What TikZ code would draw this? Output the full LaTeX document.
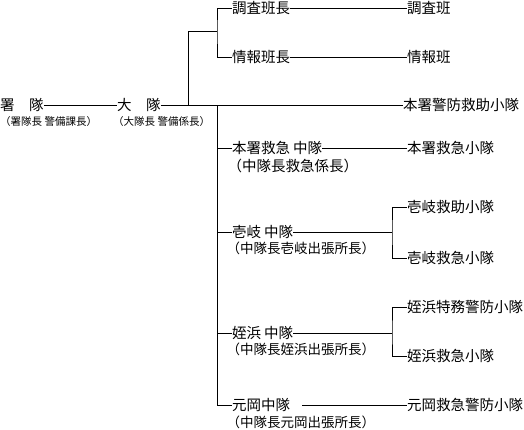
\documentclass[tikz,border=0pt]{standalone}
\usepackage{fontspec}
\newfontfamily\jp{Noto Sans CJK JP}
\begin{document}
\begin{tikzpicture}[x=1pt,y=-1pt,
  main/.style={anchor=west,inner sep=0pt,font=\jp\fontsize{14.5}{16}\selectfont},
  subt/.style={anchor=west,inner sep=0pt,font=\jp\fontsize{13.5}{15}\selectfont},
  tiny/.style={anchor=west,inner sep=0pt,font=\jp\fontsize{10.5}{12}\selectfont},
  conn/.style={line width=1pt}]
\useasboundingbox (0,0) rectangle (524,429);
% left part
\node[main] (shotai) at (0,105) {署　隊};
\node[tiny] (shotaisub) at (0,122) {（署隊長 警備課長）};
\node[main] (daitai) at (117,105) {大　隊};
\node[tiny] (daitaisub) at (113,122) {（大隊長 警備係長）};
% top branches
\node[main] (chosa) at (232,8) {調査班長};
\node[main] (chosahan) at (407,8) {調査班};
\node[main] (joho) at (232,57) {情報班長};
\node[main] (johohan) at (407,57) {情報班};
\node[main] (honsho) at (403,105) {本署警防救助小隊};
% middle companies
\node[main] (honq) at (232,148) {本署救急\hspace{3pt}中隊};
\node[main] (honqsub) at (227.5,166) {（中隊長救急係長）};
\node[main] (honqs) at (407,148) {本署救急小隊};
\node[main] (iki) at (232,232) {壱岐\hspace{3pt}中隊};
\node[subt] (ikisub) at (226.5,248) {（中隊長壱岐出張所長）};
\node[main] (ikia) at (407,207) {壱岐救助小隊};
\node[main] (ikib) at (407,258) {壱岐救急小隊};
\node[main] (mei) at (232,333) {姪浜\hspace{3pt}中隊};
\node[subt] (meisub) at (226.5,349) {（中隊長姪浜出張所長）};
\node[main] (meia) at (407,307) {姪浜特務警防小隊};
\node[main] (meib) at (407,356) {姪浜救急小隊};
\node[main] (moto) at (232,405) {元岡中隊};
\node[subt] (motosub) at (226.5,422) {（中隊長元岡出張所長）};
\node[main] (motos) at (407,405) {元岡救急警防小隊};
% coordinates
\coordinate (ja) at (188,105);
\coordinate (jb) at (217,31);
\coordinate (t0) at (217,105);
\coordinate (ik) at (392,232);
\coordinate (me) at (392,333);
\coordinate (mo) at (302,405);
% connectors
\draw[conn] (shotai.east) -- (daitai.west);
\draw[conn] (daitai.east) -- (honsho.west);
\draw[conn] (ja) |- (jb);
\draw[conn] (chosa.west) -| (jb) |- (joho.west);
\draw[conn] (chosa.east) -- (chosahan.west);
\draw[conn] (joho.east) -- (johohan.west);
\draw[conn] (t0) |- (moto.west);
\draw[conn] (honq.west) -- (honq.west -| t0);
\draw[conn] (iki.west) -- (iki.west -| t0);
\draw[conn] (mei.west) -- (mei.west -| t0);
\draw[conn] (honq.east) -- (honqs.west);
\draw[conn] (iki.east) -- (ik);
\draw[conn] (ikia.west) -| (ik) |- (ikib.west);
\draw[conn] (mei.east) -- (me);
\draw[conn] (meia.west) -| (me) |- (meib.west);
\draw[conn] (mo) -- (motos.west);
\end{tikzpicture}
\end{document}
